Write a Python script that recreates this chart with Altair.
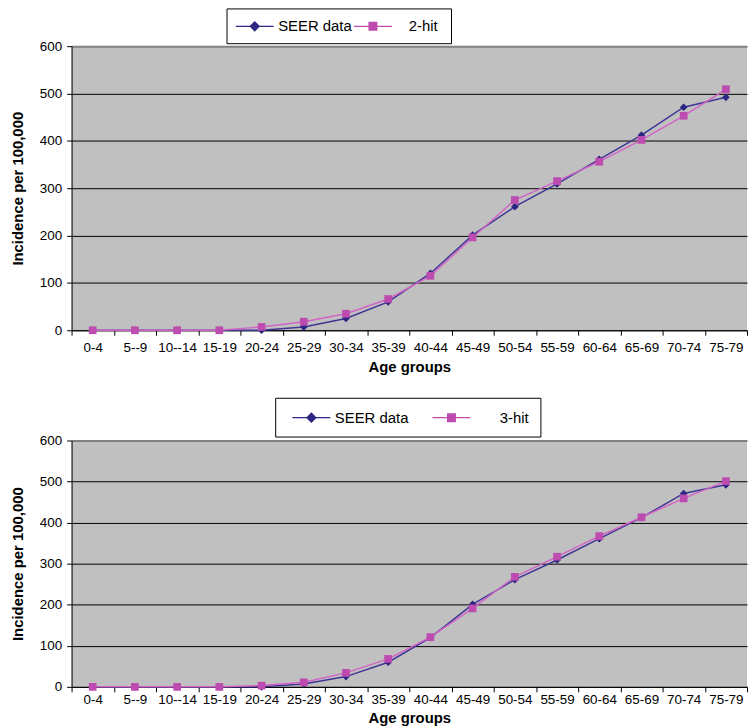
import altair as alt
import pandas as pd

ages = ["0-4", "5--9", "10--14", "15-19", "20-24", "25-29", "30-34", "35-39",
        "40-44", "45-49", "50-54", "55-59", "60-64", "65-69", "70-74", "75-79"]
seer = [0, 0, 0, 0, 0, 7, 25, 60, 120, 201, 261, 309, 361, 412, 471, 492]
hit2 = [0, 0, 0, 0, 7, 18, 35, 66, 115, 196, 275, 315, 356, 402, 453, 509]
hit3 = [0, 0, 0, 0, 3, 11, 34, 68, 121, 191, 268, 317, 367, 413, 459, 501]
y_ticks = [0, 100, 200, 300, 400, 500, 600]

SEER_LINE, SEER_PT = "#3f3594", "#2e2683"
HIT_LINE, HIT_PT = "#d264c6", "#bd4bb0"

FONT = "Liberation Sans"
NB = "\u00a0"
ZW = "\u200b"


def f(v):
    return ("%.3f" % v).rstrip("0").rstrip(".")


def leg_paths(s):
    """Legend symbols (line with diamond / square), shifted right by s units."""
    line = "M%s,-0.07H%s V0.07H%s Z" % (f(-1 + s), f(3.4 + s), f(-1 + s))
    c = 1.2 + s
    dia = " M%s,-0.62L%s,0L%s,0.62L%s,0Z" % (f(c), f(c + 0.62), f(c), f(c - 0.62))
    sq = " M%s,-0.52H%s V0.52H%s Z" % (f(c - 0.52), f(c + 0.52), f(c - 0.52))
    return [line + dia, line + sq]


def panel(hit, hit_name, height, lx, ly, col_pad, lead, trail, leg_pad,
          shift, lab_pad, title_pad):
    names = ["SEER data", hit_name]
    df = pd.DataFrame({
        "age": ages * 2,
        "value": seer + hit,
        "series": [names[0]] * len(ages) + [names[1]] * len(ages),
        "order": list(range(len(ages))) * 2,
    })
    padded = ZW + NB * lead + hit_name + NB * trail + ZW
    label_expr = "datum.label == '%s' ? '%s' : datum.label" % (hit_name, padded)
    legend = alt.Legend(title=None, orient="none", direction="horizontal",
                        legendX=lx, legendY=ly,
                        strokeColor="black", fillColor="white",
                        padding=leg_pad, columnPadding=col_pad,
                        labelFont=FONT, labelFontSize=15, labelExpr=label_expr,
                        labelColor="black", labelOffset=25 + shift * 8.66,
                        symbolSize=300, symbolStrokeWidth=0, symbolOpacity=1)
    color = alt.Color("series:N",
                      scale=alt.Scale(domain=names, range=[SEER_PT, HIT_PT]),
                      legend=legend)
    x = alt.X("age:N", sort=ages,
              scale=alt.Scale(type="band", paddingInner=0, paddingOuter=0),
              axis=alt.Axis(title="Age groups", tickBand="extent", grid=False,
                            labelAngle=0, labelFontSize=13.5, labelColor="black",
                            labelFont=FONT, labelPadding=lab_pad,
                            titleFont=FONT, titleFontSize=15, titleFontWeight="bold",
                            titleColor="black", titlePadding=title_pad,
                            domainColor="black", tickColor="black", tickSize=5))
    y = alt.Y("value:Q",
              scale=alt.Scale(domain=[0, 600], nice=False),
              axis=alt.Axis(title="Incidence per 100,000", values=y_ticks,
                            labelFontSize=13.5, labelColor="black", labelFont=FONT,
                            labelPadding=5, tickColor="black", tickSize=5,
                            domainColor="black",
                            gridColor={"condition": {"test": "datum.value === 600", "value": "#808080"},
                                       "value": "black"},
                            gridWidth={"condition": {"test": "datum.value === 600", "value": 2},
                                       "value": 1},
                            titleFont=FONT, titleFontSize=15, titleFontWeight="bold",
                            titleColor="black", titlePadding=14))
    base = alt.Chart(df)
    s_seer = base.transform_filter(alt.datum.series == names[0])
    s_hit = base.transform_filter(alt.datum.series == names[1])
    line_seer = s_seer.mark_line(strokeWidth=1.5, color=SEER_LINE).encode(
        x=x, y=y, order="order:Q")
    line_hit = s_hit.mark_line(strokeWidth=1.5, color=HIT_LINE).encode(
        x=x, y=y, order="order:Q")
    pts_seer = s_seer.mark_point(filled=True, size=60, opacity=1).encode(
        x=x, y=y, color=color, shape=alt.value("diamond"))
    pts_hit = s_hit.mark_point(filled=True, size=60, opacity=1).encode(
        x=x, y=y, color=color, shape=alt.value("square"))
    # invisible layer that only carries the legend symbols
    leg = base.mark_point(filled=True, size=0, opacity=1).encode(
        x=x, y=y, color=color,
        shape=alt.Shape("series:N",
                        scale=alt.Scale(domain=names, range=leg_paths(shift)),
                        legend=legend))
    return alt.layer(line_seer, line_hit, pts_seer, pts_hit, leg).properties(
        width=680, height=height)


top = panel(hit2, "2-hit", 286, 156, -38, 1, 3, 1, 9, 0.0, 5, 6)
bottom = panel(hit3, "3-hit", 248, 205, -43, 17, 6, 0, 11, 0.7, 1, 4)

chart = alt.vconcat(top, bottom, spacing=22).resolve_scale(
    color="independent", shape="independent"
).configure_view(
    fill="#c0c0c0", stroke=None
).properties(
    padding={"left": 2, "top": -3, "right": 0, "bottom": 0},
    background="white",
)

chart.save("out.html", embed_options={"renderer": "svg", "actions": False})
